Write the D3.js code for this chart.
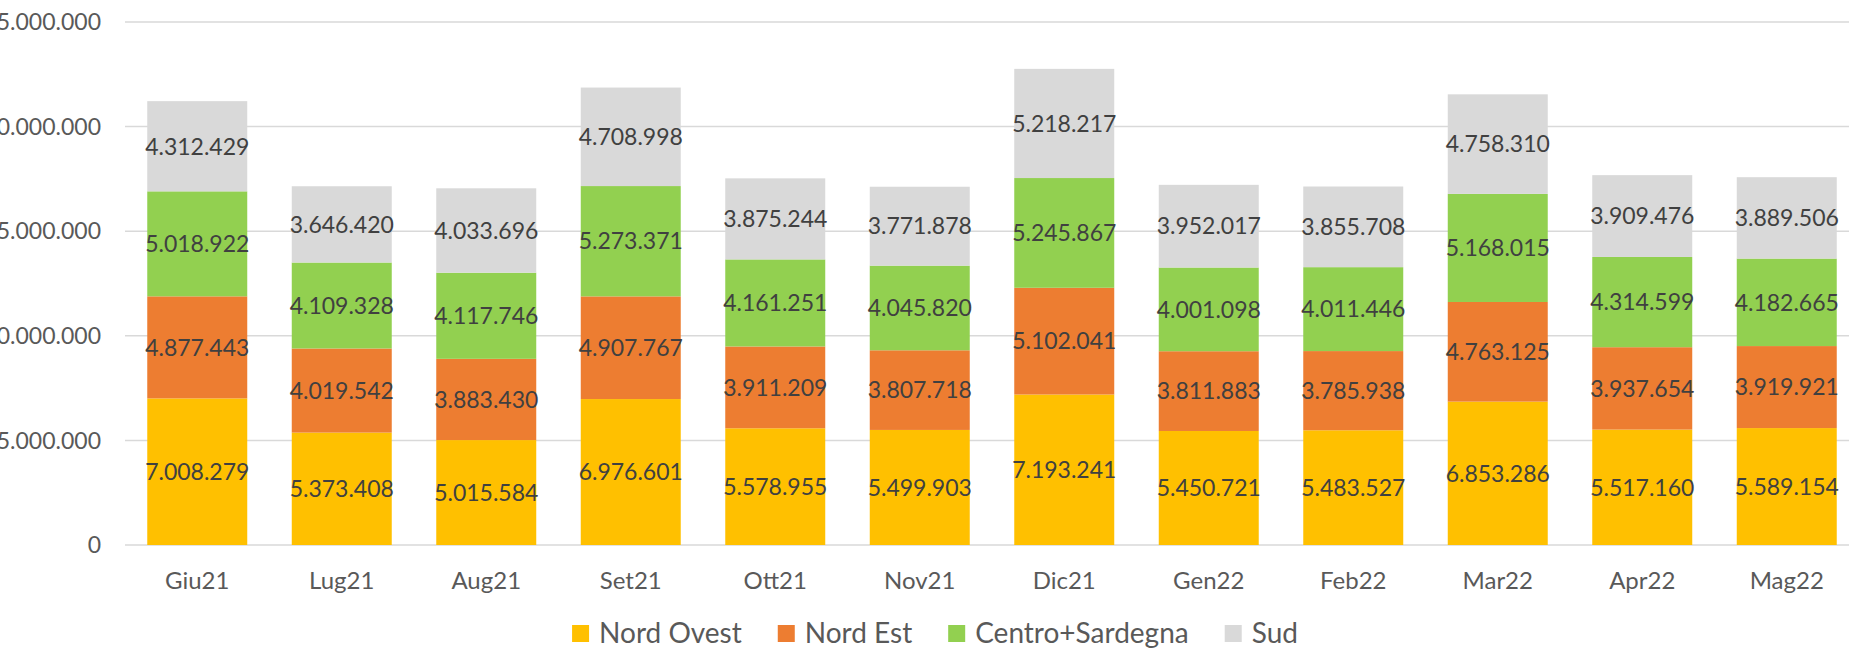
<!DOCTYPE html>
<html lang="it">
    <head>
        <meta charset="utf-8">
        <title>Regioni per mese</title>
        <script src="https://d3js.org/d3.v7.min.js"></script>
        <style type="text/css">
            body { margin: 0; background: #fff; }
            svg text { font-family: Lato, "Open Sans", sans-serif; }
        </style>
    </head>
    <body>
        <script type="text/javascript">

            //1. sizes
            const svgW = 1849;
            const svgH = 649;
            const plotLeft = 125;
            const plotRight = 1859; // plot runs past the right edge, as in the picture
            const plotTop = 22;
            const plotBottom = 545;

            //2. data
            const months = ["Giu21", "Lug21", "Aug21", "Set21", "Ott21", "Nov21",
                            "Dic21", "Gen22", "Feb22", "Mar22", "Apr22", "Mag22"];
            const seriesNames = ["Nord Ovest", "Nord Est", "Centro+Sardegna", "Sud"];
            const colors = ["#FFC000", "#ED7D31", "#92D050", "#D9D9D9"];

            const nordOvest = [7008279, 5373408, 5015584, 6976601, 5578955, 5499903,
                               7193241, 5450721, 5483527, 6853286, 5517160, 5589154];
            const nordEst = [4877443, 4019542, 3883430, 4907767, 3911209, 3807718,
                             5102041, 3811883, 3785938, 4763125, 3937654, 3919921];
            const centroSardegna = [5018922, 4109328, 4117746, 5273371, 4161251, 4045820,
                                    5245867, 4001098, 4011446, 5168015, 4314599, 4182665];
            const sud = [4312429, 3646420, 4033696, 4708998, 3875244, 3771878,
                         5218217, 3952017, 3855708, 4758310, 3909476, 3889506];

            const yTicks = [0, 5000000, 10000000, 15000000, 20000000, 25000000];

            //3. table for the stack
            const table = months.map((m, i) => ({
                month: m,
                "Nord Ovest": nordOvest[i],
                "Nord Est": nordEst[i],
                "Centro+Sardegna": centroSardegna[i],
                "Sud": sud[i]
            }));
            const stacked = d3.stack().keys(seriesNames)(table);

            const it = d3.formatLocale({decimal: ",", thousands: ".", grouping: [3], currency: ["€", ""]});
            const fmt = it.format(",d");

            //4. scales
            const xScale = d3.scaleBand()
                            .domain(months)
                            .range([plotLeft, plotRight])
                            .paddingInner(0.308)
                            .paddingOuter(0.154);

            const yScale = d3.scaleLinear()
                            .domain([0, 25000000])
                            .range([plotBottom, plotTop]);

            //5. svg
            const svg = d3.select("body")
                        .append("svg")
                        .attr("width", svgW)
                        .attr("height", svgH);

            // gridlines
            svg.append("g")
                .selectAll("line")
                .data(yTicks)
                .enter()
                .append("line")
                .attr("x1", plotLeft)
                .attr("x2", svgW)
                .attr("y1", d => yScale(d))
                .attr("y2", d => yScale(d))
                .attr("stroke", "#D9D9D9")
                .attr("stroke-width", 1.5);

            // y labels (left part cut off, like the original)
            svg.append("g")
                .selectAll("text")
                .data(yTicks)
                .enter()
                .append("text")
                .text(d => fmt(d))
                .attr("x", 101)
                .attr("y", d => yScale(d))
                .attr("dy", "0.36em")
                .attr("text-anchor", "end")
                .attr("font-size", "23px")
                .attr("fill", "#595959");

            // bars
            const layers = svg.append("g")
                .selectAll("g")
                .data(stacked)
                .enter()
                .append("g")
                .attr("fill", (d, i) => colors[i]);

            layers.selectAll("rect")
                .data(d => d)
                .enter()
                .append("rect")
                .attr("x", d => xScale(d.data.month))
                .attr("y", d => yScale(d[1]))
                .attr("width", xScale.bandwidth())
                .attr("height", d => yScale(d[0]) - yScale(d[1]));

            // data labels
            layers.selectAll("text")
                .data(d => d.map(v => ({v: v, key: d.key})))
                .enter()
                .append("text")
                .text(d => fmt(d.v.data[d.key]))
                .attr("x", d => xScale(d.v.data.month) + xScale.bandwidth() / 2)
                .attr("y", d => (yScale(d.v[0]) + yScale(d.v[1])) / 2)
                .attr("dy", "0.36em")
                .attr("text-anchor", "middle")
                .attr("font-size", "23px")
                .attr("fill", "#404040");

            // x labels
            svg.append("g")
                .selectAll("text")
                .data(months)
                .enter()
                .append("text")
                .text(d => d)
                .attr("x", d => xScale(d) + xScale.bandwidth() / 2)
                .attr("y", 589)
                .attr("text-anchor", "middle")
                .attr("font-size", "24px")
                .attr("fill", "#595959");

            // legend
            const legend = svg.append("g");
            const items = legend.selectAll("g")
                .data(seriesNames)
                .enter()
                .append("g");
            items.append("rect")
                .attr("width", 17)
                .attr("height", 17)
                .attr("y", 625)
                .attr("fill", (d, i) => colors[i]);
            items.append("text")
                .text(d => d)
                .attr("x", 27)
                .attr("y", 643)
                .attr("font-size", "28px")
                .attr("fill", "#595959");

            let pos = 0;
            const gap = 36;
            const offsets = [];
            items.each(function() {
                offsets.push(pos);
                const w = d3.select(this).select("text").node().getComputedTextLength();
                pos += 27 + w + gap;
            });
            const total = pos - gap;
            const startX = 935 - total / 2;
            items.attr("transform", (d, i) => "translate(" + (startX + offsets[i]) + ",0)");

        </script>
    </body>
</html>
